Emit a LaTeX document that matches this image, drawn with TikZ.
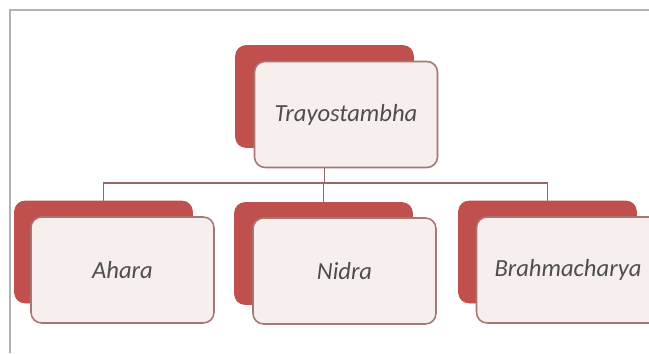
\documentclass[tikz,border=0pt]{standalone}
\usepackage{fontspec}
\setmainfont{Carlito}
\definecolor{accred}{RGB}{192,80,77}
\definecolor{paleface}{RGB}{247,238,238}
\definecolor{rim}{RGB}{168,118,116}
\definecolor{wire}{RGB}{150,104,102}
\definecolor{inkgray}{RGB}{78,78,78}
\tikzset{>=stealth,
  backcard/.style={rectangle, rounded corners=6pt, fill=accred, draw=accred,
    minimum width=3.56cm, minimum height=2.04cm, inner sep=0pt},
  frontcard/.style={rectangle, rounded corners=6pt, fill=paleface, draw=rim,
    line width=0.9pt, minimum width=3.66cm, minimum height=2.12cm, inner sep=0pt,
    text=inkgray, font=\itshape\fontsize{14}{16}\selectfont},
  link/.style={draw=wire, line width=0.9pt}}

\begin{document}
\begin{tikzpicture}[x=0.02cm, y=-0.02cm]
\useasboundingbox (0,0) rectangle (649,353);
\clip (0,0) rectangle (649,353);
% frame
\draw[black!30, line width=1.3pt] (10,353) -- (10,10) -- (649,10);
% top
\node[backcard] (tr) at (324.5,96.5) {};
\node[frontcard] (tw) at (346,114.5) {Trayostambha};
% bottom row
\node[backcard] (ar) at (103.5,252) {};
\node[frontcard] (aw) at (122.5,270) {Ahara};
\node[backcard] (nr) at (323.5,253.5) {};
\node[frontcard] (nw) at (344.5,271) {Nidra};
\node[backcard] (br) at (547.5,252) {};
\node[frontcard] (bw) at (568,270) {Brahmacharya};
% connectors
\coordinate (bus) at (324.5,183);
\draw[link] (tw.south -| tr) -- (bus);
\draw[link] (bus) -| (ar.north);
\draw[link] (bus) -| (nr.north);
\draw[link] (bus) -| (br.north);
\end{tikzpicture}
\end{document}
